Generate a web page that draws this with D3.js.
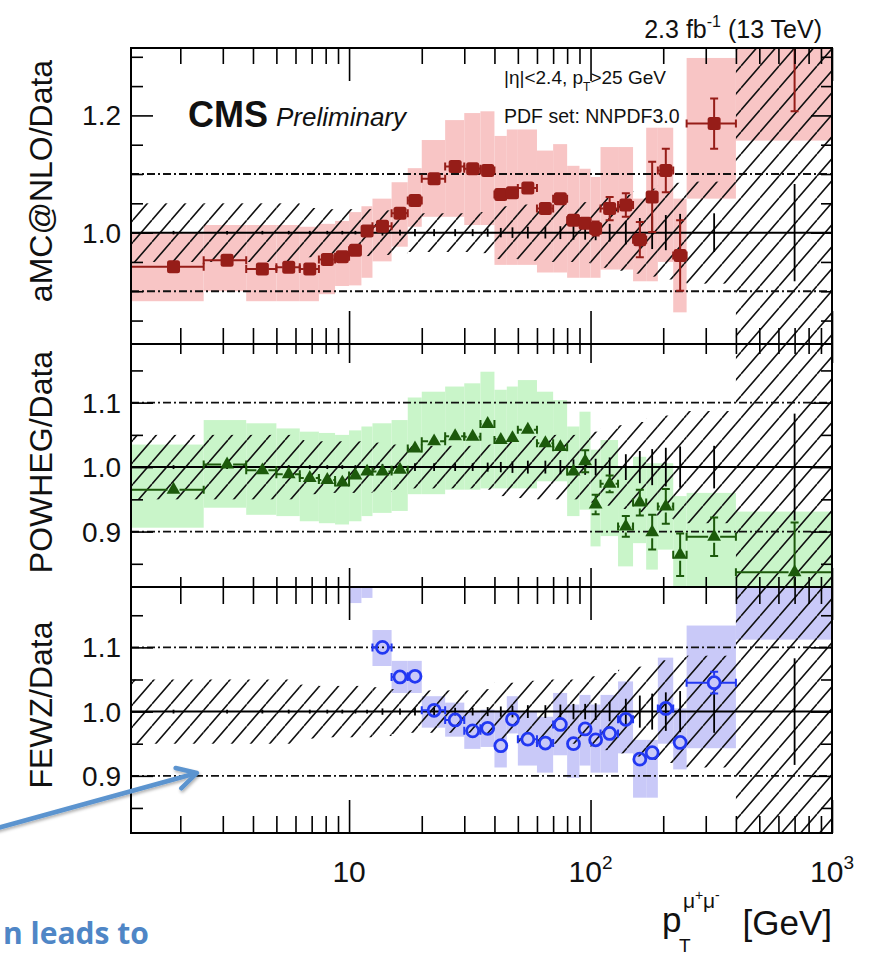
<!DOCTYPE html>
<html>
<head>
<meta charset="utf-8">
<script src="https://cdn.jsdelivr.net/npm/d3@7"></script>
<style>
  html, body { margin: 0; padding: 0; background: #fff; overflow: hidden; }
  svg { display: block; }
</style>
</head>
<body>
<svg id="chart" width="869" height="955"></svg>
<script>
// ---------------- data ----------------
// dimuon pT bin edges and centres [GeV]
const binEdges = [1.25, 2.5, 3.75, 5, 6.25, 7.5, 8.75, 10, 11.25, 12.5, 15, 17.5, 20, 25, 30, 35, 40, 45,
                  50, 60, 70, 80, 90, 100, 110, 130, 150, 170, 190, 220, 250, 400, 1000];
const binCenters = [1.875, 3.125, 4.375, 5.625, 6.875, 8.125, 9.375, 10.625, 11.875, 13.75, 16.25, 18.75,
                    22.5, 27.5, 32.5, 37.5, 42.5, 47.5, 55, 65, 75, 85, 95, 105, 120, 140, 160, 180, 205,
                    235, 325, 700];

// data uncertainties drawn around 1: statistical (bars) and systematic (hatched band)
const dataStatErr = [0.003, 0.003, 0.003, 0.003, 0.003, 0.003, 0.003, 0.003, 0.003, 0.005, 0.005, 0.006,
                     0.006, 0.006, 0.006, 0.007, 0.008, 0.009, 0.010, 0.010, 0.011, 0.012, 0.012, 0.013,
                     0.015, 0.020, 0.025, 0.028, 0.030, 0.032, 0.033, 0.083];
const dataSystErr = [0.050, 0.050, 0.050, 0.050, 0.042, 0.040, 0.040, 0.040, 0.040, 0.038, 0.035, 0.033,
                     0.033, 0.033, 0.033, 0.035, 0.045, 0.045, 0.048, 0.050, 0.050, 0.050, 0.052, 0.055,
                     0.060, 0.065, 0.070, 0.075, 0.080, 0.085, 0.087, 0.600];

// aMC@NLO / Data
const amcRatio = [0.942, 0.953, 0.938, 0.941, 0.938, 0.954, 0.959, 0.970, 1.003, 1.011, 1.033, 1.055,
                  1.092, 1.113, 1.109, 1.106, 1.065, 1.068, 1.076, 1.041, 1.058, 1.021, 1.016, 1.007,
                  1.041, 1.047, 0.988, 1.061, 1.106, 0.961, 1.186, 1.360];
const amcErr = [0.004, 0.004, 0.004, 0.004, 0.004, 0.004, 0.004, 0.004, 0.004, 0.004, 0.005, 0.005,
                0.005, 0.005, 0.005, 0.006, 0.006, 0.006, 0.007, 0.007, 0.008, 0.008, 0.010, 0.012,
                0.020, 0.020, 0.030, 0.060, 0.037, 0.060, 0.043, 0.153];
const amcBandLow = [0.883, 0.900, 0.883, 0.883, 0.883, 0.895, 0.909, 0.910, 0.923, 0.951, 0.976, 1.010,
                    1.027, 1.027, 1.013, 1.013, 0.945, 0.945, 0.945, 0.932, 0.932, 0.923, 0.923, 0.923,
                    0.937, 0.937, 0.917, 0.917, 0.950, 0.864, 1.058, 1.157];
const amcBandHigh = [1.000, 1.013, 1.013, 1.013, 1.010, 1.015, 1.020, 1.035, 1.045, 1.058, 1.086, 1.110,
                     1.158, 1.192, 1.204, 1.207, 1.165, 1.176, 1.176, 1.140, 1.151, 1.114, 1.109, 1.095,
                     1.146, 1.146, 1.058, 1.179, 1.179, 1.058, 1.298, 1.400];

// POWHEG / Data
const powhegRatio = [0.965, 1.004, 0.995, 0.989, 0.983, 0.980, 0.976, 0.987, 0.993, 0.993, 0.996, 1.029,
                     1.040, 1.048, 1.047, 1.067, 1.042, 1.045, 1.058, 1.037, 1.031, 0.993, 1.009, 0.942,
                     0.974, 0.908, 0.945, 0.899, 0.939, 0.864, 0.892, 0.837];
const powhegErr = [0.004, 0.004, 0.004, 0.004, 0.004, 0.004, 0.004, 0.004, 0.004, 0.004, 0.004, 0.004,
                   0.004, 0.004, 0.004, 0.004, 0.004, 0.004, 0.004, 0.004, 0.004, 0.008, 0.017, 0.015,
                   0.013, 0.016, 0.020, 0.027, 0.027, 0.033, 0.030, 0.077];
const powhegBandLow = [0.906, 0.937, 0.926, 0.924, 0.916, 0.913, 0.911, 0.916, 0.924, 0.929, 0.932, 0.958,
                       0.958, 0.965, 0.965, 0.967, 0.967, 0.967, 0.967, 0.978, 0.978, 0.924, 0.934, 0.877,
                       0.893, 0.846, 0.882, 0.841, 0.872, 0.780, 0.780, 0.780];
const powhegBandHigh = [1.035, 1.073, 1.068, 1.060, 1.055, 1.053, 1.050, 1.057, 1.063, 1.068, 1.073, 1.108,
                        1.117, 1.125, 1.130, 1.148, 1.120, 1.125, 1.135, 1.117, 1.104, 1.063, 1.086, 1.027,
                        1.042, 1.001, 1.016, 1.006, 1.006, 0.955, 0.960, 0.931];

// FEWZ / Data (no prediction below 8.75 GeV)
const fewzRatio = [null, null, null, null, null, null, null, 1.250, 1.240, 1.100, 1.054, 1.055,
                   1.002, 0.987, 0.970, 0.974, 0.947, 0.988, 0.957, 0.951, 0.980, 0.950, 0.973, 0.956,
                   0.966, 0.988, 0.926, 0.936, 1.005, 0.952, 1.045, 1.260];
const fewzErr = [null, null, null, null, null, null, null, 0.005, 0.005, 0.006, 0.005, 0.005,
                 0.004, 0.004, 0.004, 0.004, 0.004, 0.004, 0.004, 0.004, 0.004, 0.004, 0.005, 0.005,
                 0.005, 0.006, 0.006, 0.007, 0.008, 0.010, 0.017, 0.020];
const fewzBandLow = [null, null, null, null, null, null, null, 1.169, 1.177, 1.071, 1.029, 1.029,
                     0.975, 0.961, 0.942, 0.945, 0.913, 0.966, 0.916, 0.905, 0.932, 0.897, 0.916, 0.905,
                     0.905, 0.935, 0.866, 0.866, 0.950, 0.910, 0.943, 1.112];
const fewzBandHigh = [null, null, null, null, null, null, null, 1.300, 1.300, 1.127, 1.079, 1.079,
                      1.024, 1.014, 1.000, 1.003, 1.000, 1.024, 1.000, 0.992, 1.029, 1.011, 1.026, 1.011,
                      1.026, 1.047, 0.956, 0.956, 1.084, 1.005, 1.134, 1.350];

// tick labels
const xTickValues = [10, 100, 1000];
const xTickLabels = ["10", "10^2", "10^3"];
const yTickLabelsTop = ["1.0", "1.2"];
const yTickLabelsLower = ["0.9", "1.0", "1.1"];

// ---------------- layout ----------------
const FONT = "'Liberation Sans', Arial, Helvetica, sans-serif";
const L = 131, R = 832;
const svg = d3.select("#chart");
const defs = svg.append("defs");

const x = d3.scaleLog().domain([1.25, 1000]).range([L, R]);

// diagonal hatching for the data systematic band
const pat = defs.append("pattern")
  .attr("id", "hatch").attr("patternUnits", "userSpaceOnUse")
  .attr("width", 19).attr("height", 22);
pat.append("path")
  .attr("d", "M-19,22L0,0M0,22L19,0M19,22L38,0")
  .attr("stroke", "#111").attr("stroke-width", 1.6).attr("fill", "none");

const shadow = defs.append("filter").attr("id", "soft")
  .attr("x", "-20%").attr("y", "-20%").attr("width", "140%").attr("height", "160%");
shadow.append("feDropShadow").attr("dx", 1).attr("dy", 2).attr("stdDeviation", 1.5)
  .attr("flood-color", "#000").attr("flood-opacity", 0.3);

const panels = [
  { title: "aMC@NLO/Data", top: 48, bottom: 344, domain: [0.81, 1.315],
    ratio: amcRatio, err: amcErr, lo: amcBandLow, hi: amcBandHigh,
    bandColor: "#f8c5c5", color: "#961d18", marker: "square",
    yLabels: yTickLabelsTop, yMajor: [1.0, 1.2], yMinor: [0.85, 0.9, 0.95, 1.05, 1.1, 1.15, 1.25, 1.3],
    xMinorLen: 16, xMajorLen: 33, titleY: 181 },
  { title: "POWHEG/Data", top: 344, bottom: 587, domain: [0.814, 1.191],
    ratio: powhegRatio, err: powhegErr, lo: powhegBandLow, hi: powhegBandHigh,
    bandColor: "#c9f5c9", color: "#1c5a0b", marker: "triangle",
    yLabels: yTickLabelsLower, yMajor: [0.9, 1.0, 1.1], yMinor: [0.85, 0.95, 1.05, 1.15],
    xMinorLen: 10, xMajorLen: 19, titleY: 462 },
  { title: "FEWZ/Data", top: 587, bottom: 833, domain: [0.811, 1.194],
    ratio: fewzRatio, err: fewzErr, lo: fewzBandLow, hi: fewzBandHigh,
    bandColor: "#c9c9f8", color: "#2238f2", marker: "circle",
    yLabels: yTickLabelsLower, yMajor: [0.9, 1.0, 1.1], yMinor: [0.85, 0.95, 1.05, 1.15],
    xMinorLen: 17, xMajorLen: 33, titleY: 705 }
];

const xMinor = x.ticks().filter(v => !xTickValues.includes(v));

panels.forEach((p, pi) => {
  const y = d3.scaleLinear().domain(p.domain).range([p.bottom, p.top]);
  const clipId = "clip" + pi;
  defs.append("clipPath").attr("id", clipId)
    .append("rect").attr("x", L).attr("y", p.top).attr("width", R - L).attr("height", p.bottom - p.top);

  const g = svg.append("g").attr("clip-path", `url(#${clipId})`);
  const idx = d3.range(binCenters.length).filter(i => p.ratio[i] !== null);

  // theory uncertainty band
  g.append("g").selectAll("rect").data(idx).join("rect")
    .attr("x", i => x(binEdges[i]))
    .attr("width", i => x(binEdges[i + 1]) - x(binEdges[i]))
    .attr("y", i => y(p.hi[i]))
    .attr("height", i => y(p.lo[i]) - y(p.hi[i]))
    .attr("fill", p.bandColor);

  // data systematic band (hatched)
  g.append("g").selectAll("rect").data(d3.range(binCenters.length)).join("rect")
    .attr("x", i => x(binEdges[i]))
    .attr("width", i => x(binEdges[i + 1]) - x(binEdges[i]))
    .attr("y", i => y(1 + dataSystErr[i]))
    .attr("height", i => y(1 - dataSystErr[i]) - y(1 + dataSystErr[i]))
    .attr("fill", "url(#hatch)");

  // reference lines
  [0.9, 1.1].forEach(v => {
    g.append("line").attr("x1", L).attr("x2", R).attr("y1", y(v)).attr("y2", y(v))
      .attr("stroke", "#111").attr("stroke-width", 1.8).attr("stroke-dasharray", "8,3,2,3");
  });
  g.append("line").attr("x1", L).attr("x2", R).attr("y1", y(1)).attr("y2", y(1))
    .attr("stroke", "#000").attr("stroke-width", 2);

  // data statistical bars at unity
  g.append("g").selectAll("line").data(d3.range(binCenters.length)).join("line")
    .attr("x1", i => x(binCenters[i])).attr("x2", i => x(binCenters[i]))
    .attr("y1", i => y(1 + dataStatErr[i])).attr("y2", i => y(1 - dataStatErr[i]))
    .attr("stroke", "#000").attr("stroke-width", 1.8);

  // prediction error bars (drawn outside the marker, with end caps)
  const gap = p.marker === "circle" ? 7 : 6;
  const cap = 4;
  const eb = g.append("g").attr("stroke", p.color).attr("stroke-width", 2).attr("fill", "none");
  idx.forEach(i => {
    const cx = x(binCenters[i]), cy = y(p.ratio[i]);
    const xl = x(binEdges[i]), xr = x(binEdges[i + 1]);
    const yt = y(p.ratio[i] + p.err[i]), yb = y(p.ratio[i] - p.err[i]);
    const segs = [];
    if (cx - gap > xl) segs.push(`M${xl},${cy}H${cx - gap}M${xl},${cy - cap}V${cy + cap}`);
    if (cx + gap < xr) segs.push(`M${cx + gap},${cy}H${xr}M${xr},${cy - cap}V${cy + cap}`);
    if (cy - gap > yt) segs.push(`M${cx},${cy - gap}V${yt}M${cx - cap},${yt}H${cx + cap}`);
    if (cy + gap < yb) segs.push(`M${cx},${cy + gap}V${yb}M${cx - cap},${yb}H${cx + cap}`);
    if (segs.length) eb.append("path").attr("d", segs.join(""));
  });

  // markers
  const mk = g.append("g");
  if (p.marker === "square") {
    mk.selectAll("rect").data(idx).join("rect")
      .attr("x", i => x(binCenters[i]) - 6.5).attr("y", i => y(p.ratio[i]) - 6.5)
      .attr("width", 13).attr("height", 13).attr("rx", 2.5)
      .attr("fill", p.color);
  } else if (p.marker === "triangle") {
    const tri = d3.symbol(d3.symbolTriangle, 82);
    mk.selectAll("path").data(idx).join("path")
      .attr("d", tri)
      .attr("transform", i => `translate(${x(binCenters[i])},${y(p.ratio[i])})`)
      .attr("fill", p.color);
  } else {
    mk.selectAll("circle").data(idx).join("circle")
      .attr("cx", i => x(binCenters[i])).attr("cy", i => y(p.ratio[i])).attr("r", 6)
      .attr("fill", "none").attr("stroke", p.color).attr("stroke-width", 2.8);
  }

  // axes: inward ticks on all four sides
  const axes = svg.append("g");
  const addAxis = (axis, tx, ty) => {
    axes.append("g").attr("transform", `translate(${tx},${ty})`).call(axis)
      .call(a => a.select(".domain").remove())
      .call(a => a.selectAll("line").attr("stroke", "#000").attr("stroke-width", 1.6));
  };
  addAxis(d3.axisBottom(x).tickValues(xMinor).tickSize(p.xMinorLen).tickFormat(""), 0, p.top);
  addAxis(d3.axisBottom(x).tickValues(xTickValues).tickSize(p.xMajorLen).tickFormat(""), 0, p.top);
  addAxis(d3.axisTop(x).tickValues(xMinor).tickSize(p.xMinorLen).tickFormat(""), 0, p.bottom);
  addAxis(d3.axisTop(x).tickValues(xTickValues).tickSize(p.xMajorLen).tickFormat(""), 0, p.bottom);
  addAxis(d3.axisRight(y).tickValues(p.yMinor).tickSize(12).tickFormat(""), L, 0);
  addAxis(d3.axisRight(y).tickValues(p.yMajor).tickSize(22).tickFormat(""), L, 0);
  addAxis(d3.axisLeft(y).tickValues(p.yMinor).tickSize(11).tickFormat(""), R, 0);
  addAxis(d3.axisLeft(y).tickValues(p.yMajor).tickSize(21).tickFormat(""), R, 0);

  // frame
  svg.append("rect").attr("x", L).attr("y", p.top).attr("width", R - L).attr("height", p.bottom - p.top)
    .attr("fill", "none").attr("stroke", "#000").attr("stroke-width", 2);

  // y tick labels
  svg.append("g").selectAll("text").data(p.yLabels).join("text")
    .attr("x", 121).attr("y", d => y(parseFloat(d))).attr("dy", "0.36em")
    .attr("text-anchor", "end").attr("font-family", FONT).attr("font-size", 28).attr("fill", "#111")
    .text(d => d);

  // y title
  svg.append("text")
    .attr("transform", `translate(52,${p.titleY}) rotate(-90)`)
    .attr("text-anchor", "middle").attr("font-family", FONT).attr("font-size", 32).attr("fill", "#111")
    .text(p.title);
});

// x tick labels (bottom panel only)
const xl = svg.append("g").attr("font-family", FONT).attr("fill", "#111");
xTickValues.forEach((v, k) => {
  const [base, exp] = xTickLabels[k].split("^");
  const t = xl.append("text").attr("x", x(v)).attr("y", 882).attr("text-anchor", "middle")
    .attr("font-size", 30);
  t.append("tspan").text(base);
  if (exp) t.append("tspan").attr("font-size", 19).attr("dy", -13).text(exp);
});

// x axis title
const xt = svg.append("g").attr("font-family", FONT).attr("fill", "#111");
xt.append("text").attr("x", 662).attr("y", 932).attr("font-size", 35).text("p");
xt.append("text").attr("x", 679).attr("y", 952).attr("font-size", 19).text("T");
xt.append("text").attr("x", 683).attr("y", 908).attr("font-size", 21).text("μ");
xt.append("text").attr("x", 695).attr("y", 900).attr("font-size", 14).text("+");
xt.append("text").attr("x", 703).attr("y", 908).attr("font-size", 21).text("μ");
xt.append("text").attr("x", 715).attr("y", 900).attr("font-size", 14).text("-");
xt.append("text").attr("x", 832).attr("y", 935).attr("text-anchor", "end").attr("font-size", 35).text("[GeV]");

// header and labels
const hd = svg.append("g").attr("font-family", FONT).attr("fill", "#111");
const lumi = hd.append("text").attr("x", 822).attr("y", 38).attr("text-anchor", "end").attr("font-size", 25);
lumi.append("tspan").text("2.3 fb");
lumi.append("tspan").attr("font-size", 16).attr("dy", -11).text("-1");
lumi.append("tspan").attr("dy", 11).text(" (13 TeV)");

hd.append("text").attr("x", 188).attr("y", 127).attr("font-size", 36).attr("font-weight", "bold").text("CMS");
hd.append("text").attr("x", 276).attr("y", 126).attr("font-size", 26).attr("font-style", "italic").text("Preliminary");

const sel = hd.append("text").attr("x", 504).attr("y", 84).attr("font-size", 19);
sel.append("tspan").text("|η|<2.4, p");
sel.append("tspan").attr("font-size", 12).attr("dy", 7).text("T");
sel.append("tspan").attr("dy", -7).text(">25 GeV");
hd.append("text").attr("x", 504).attr("y", 123).attr("font-size", 19.5).text("PDF set: NNPDF3.0");

// annotation arrow and caption
const ax0 = -6, ay0 = 829, ax1 = 197, ay1 = 773;
const ang = Math.atan2(ay1 - ay0, ax1 - ax0);
const head = 22, spread = 0.5;
const arrow = svg.append("g").attr("filter", "url(#soft)")
  .attr("stroke", "#5b94cf").attr("stroke-width", 4.5).attr("fill", "none")
  .attr("stroke-linecap", "round").attr("stroke-linejoin", "round");
arrow.append("line").attr("x1", ax0).attr("y1", ay0).attr("x2", ax1 - 2 * Math.cos(ang)).attr("y2", ay1 - 2 * Math.sin(ang));
arrow.append("path").attr("d",
  `M${ax1 - head * Math.cos(ang - spread)},${ay1 - head * Math.sin(ang - spread)}` +
  `L${ax1},${ay1}` +
  `L${ax1 - head * Math.cos(ang + spread)},${ay1 - head * Math.sin(ang + spread)}`);

svg.append("text").attr("x", 3).attr("y", 944)
  .attr("font-family", "'Open Sans', 'Noto Sans', sans-serif").attr("font-weight", "bold")
  .attr("font-size", 30).attr("fill", "#4f86c6").text("n leads to");
</script>
</body>
</html>
